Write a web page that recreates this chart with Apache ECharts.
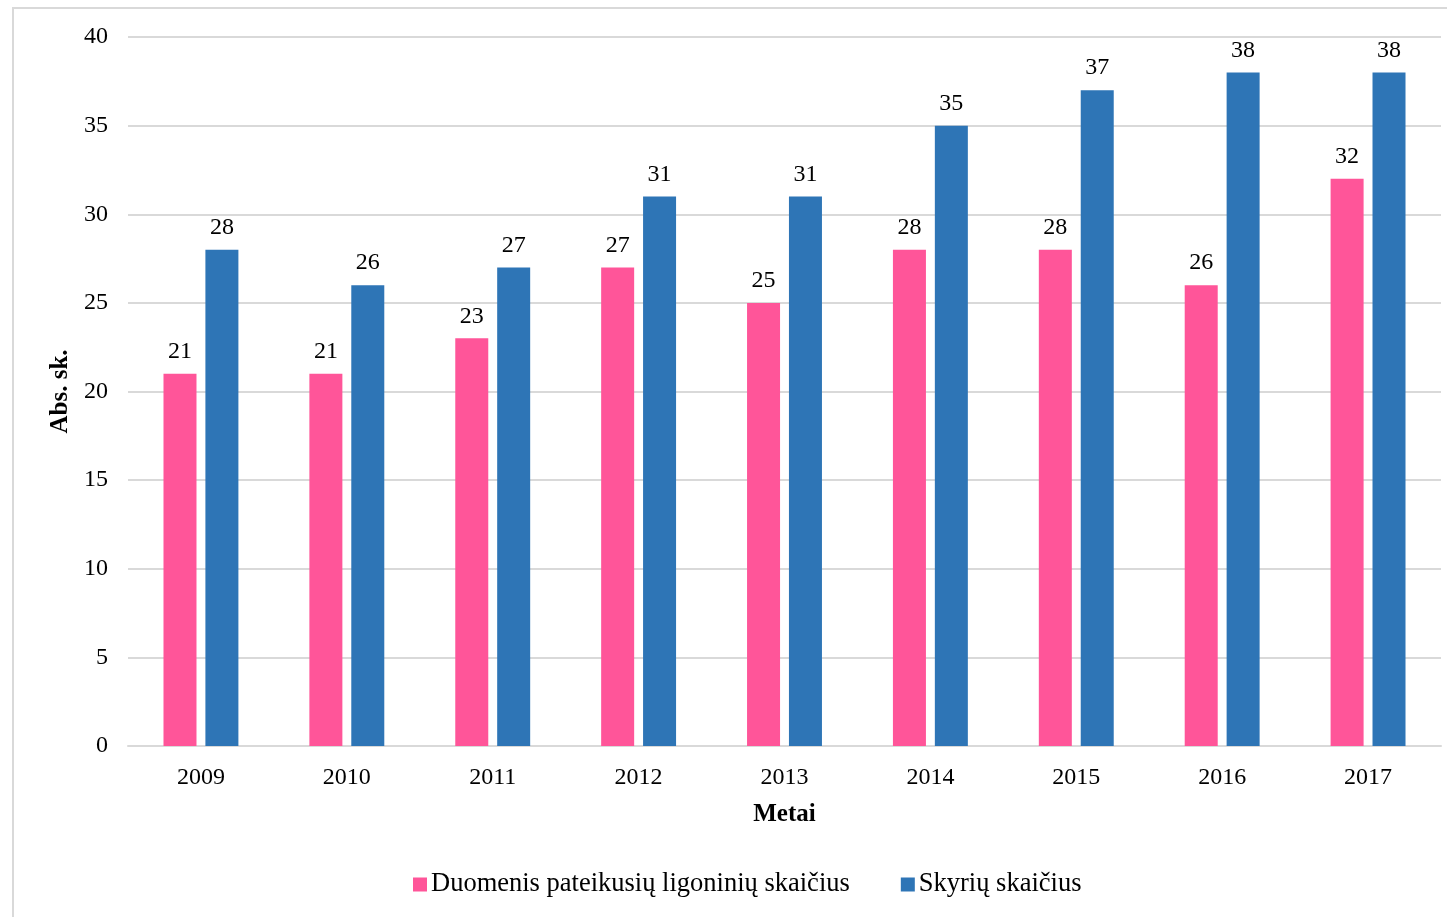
<!DOCTYPE html>
<html>
<head>
<meta charset="utf-8">
<script src="https://cdn.jsdelivr.net/npm/echarts@6/dist/echarts.min.js"></script>
<style>
  html, body { margin: 0; padding: 0; background: #fff; }
  #frame {
    position: absolute; left: 12px; top: 7px; width: 1460px; height: 940px;
    border-left: 2px solid #d9d9d9; border-top: 2px solid #d9d9d9;
  }
  #chart { position: absolute; left: 0; top: 0; width: 1447px; height: 917px; }
</style>
</head>
<body>
<div id="frame"></div>
<div id="chart"></div>
<script>
// metai ir reikšmės
const years = ['2009', '2010', '2011', '2012', '2013', '2014', '2015', '2016', '2017'];
const hospitals = [21, 21, 23, 27, 25, 28, 28, 26, 32];
const departments = [28, 26, 27, 31, 31, 35, 37, 38, 38];

const font = '"Liberation Serif", "Times New Roman", serif';

const chart = echarts.init(document.getElementById('chart'));

const labelStyle = {
  show: true,
  position: 'top',
  distance: 10,
  fontFamily: font,
  fontSize: 24,
  color: '#000'
};

chart.setOption({
  animation: false,
  textStyle: { fontFamily: font },
  grid: { left: 128, right: 6, top: 37, bottom: 171 },
  legend: {
    top: 866,
    left: 408,
    itemWidth: 14,
    itemHeight: 14,
    itemGap: 51,
    icon: 'rect',
    textStyle: { fontFamily: font, fontSize: 26.5, color: '#000', padding: [0, 0, 0, -1] },
    data: ['Duomenis pateikusių ligoninių skaičius', 'Skyrių skaičius']
  },
  xAxis: {
    type: 'category',
    data: years,
    name: 'Metai',
    nameLocation: 'middle',
    nameGap: 56,
    nameTextStyle: { fontFamily: font, fontSize: 25, fontWeight: 'bold', color: '#000' },
    axisLine: { lineStyle: { color: '#d9d9d9', width: 2 } },
    axisTick: { show: false },
    axisLabel: { fontFamily: font, fontSize: 24, color: '#000', margin: 20 }
  },
  yAxis: {
    type: 'value',
    min: 0,
    max: 40,
    interval: 5,
    name: 'Abs. sk.',
    nameLocation: 'middle',
    nameGap: 52,
    nameTextStyle: { fontFamily: font, fontSize: 25, fontWeight: 'bold', color: '#000' },
    axisLine: { show: false },
    axisTick: { show: false },
    axisLabel: { fontFamily: font, fontSize: 24, color: '#000', margin: 20 },
    splitLine: { lineStyle: { color: '#d9d9d9', width: 2 } }
  },
  series: [
    {
      name: 'Duomenis pateikusių ligoninių skaičius',
      type: 'bar',
      data: hospitals,
      barWidth: 33,
      barGap: '27%',
      itemStyle: { color: '#FF5599' },
      label: labelStyle
    },
    {
      name: 'Skyrių skaičius',
      type: 'bar',
      data: departments,
      barWidth: 33,
      itemStyle: { color: '#2E75B6' },
      label: labelStyle
    }
  ]
});
</script>
</body>
</html>
